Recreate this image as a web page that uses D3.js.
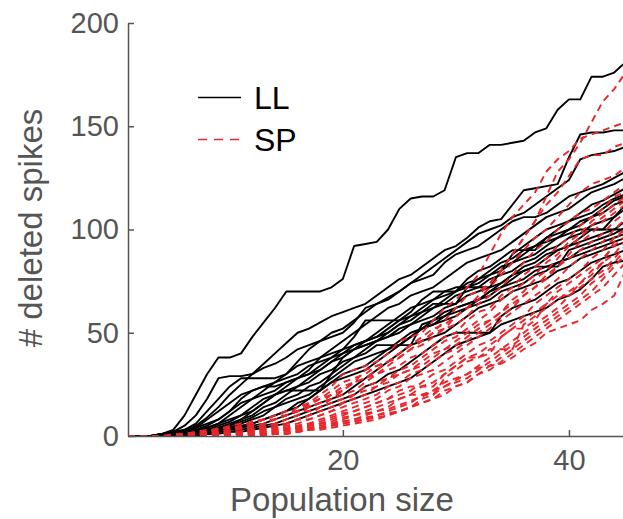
<!DOCTYPE html>
<html>
<head>
<meta charset="utf-8">
<script src="https://cdn.jsdelivr.net/npm/d3@7"></script>
<style>
  html, body { margin: 0; padding: 0; background: #fff; }
  svg { display: block; }
  text { font-family: "Liberation Sans", Arial, Helvetica, sans-serif; }
</style>
</head>
<body>
<svg id="chart" width="623" height="519"></svg>
<script>
// Population sizes (x values)
const populationSizes = d3.range(1, 46);

// Tick labels
const xTicks = [20, 40];
const yTicks = [0, 50, 100, 150, 200];

// Legend
const legendLabels = ["LL", "SP"];

// LL series (# deleted spikes vs population size)
const llSeries = [
  [0,0,0,1,3,10,20,30,38,38,40,48,55,62,70,70,70,70,72,76,92,93,94,100,110,115,116,116,119,135,137,137,141,141,142,143,147,149,158,163,163,174,174,176,181],
  [0,0,0,1,2,5,10,18,28,29,29,30,35,40,45,50,52,55,58,60,62,64,68,72,76,78,82,86,90,92,96,101,104,105,112,119,120,121,122,135,146,147,147,148,148],
  [0,0,0,0,1,3,6,12,18,24,28,28,28,28,30,36,42,46,50,52,56,60,64,67,70,74,78,82,86,90,94,98,100,102,106,108,112,116,120,124,134,136,137,138,140],
  [0,0,0,0,1,2,5,9,14,20,25,30,33,35,38,42,44,46,48,50,55,62,64,66,70,74,76,78,84,88,90,92,96,100,104,106,106,108,112,116,118,120,122,125,128],
  [0,0,0,1,2,3,4,8,12,16,20,22,24,24,26,28,32,38,42,46,50,54,58,62,64,68,70,72,76,80,84,86,88,90,94,98,102,106,108,110,114,118,120,122,125],
  [0,0,0,0,1,2,3,5,8,12,18,22,24,26,28,30,34,36,38,42,44,46,50,54,58,62,64,66,70,72,72,72,72,80,88,92,96,100,102,104,108,112,114,117,120],
  [0,0,0,0,0,1,2,4,6,10,14,18,22,26,30,34,36,38,40,42,48,56,56,56,56,60,66,70,70,70,76,80,82,86,90,90,90,96,100,104,106,108,112,115,117],
  [0,0,0,0,1,2,3,4,6,8,10,14,18,20,22,24,28,32,36,40,44,46,48,52,56,58,62,66,68,70,74,76,80,84,86,90,92,96,98,100,102,106,110,114,116],
  [0,0,0,0,0,1,2,3,5,7,10,12,16,20,22,22,22,22,30,38,42,46,48,50,54,58,60,64,64,64,72,76,78,82,84,88,92,94,96,100,104,106,108,112,114],
  [0,0,0,1,1,2,4,6,8,12,16,18,20,22,26,28,30,34,38,40,42,44,46,50,54,56,60,62,66,70,72,74,78,80,84,86,88,92,96,98,100,100,100,106,112],
  [0,0,0,0,0,1,2,3,4,6,8,12,16,20,24,28,30,32,36,38,42,44,46,48,52,54,58,62,64,68,70,72,76,78,80,84,86,90,92,96,98,102,104,106,110],
  [0,0,0,0,1,1,2,3,4,5,8,10,14,16,20,24,26,30,32,36,38,42,46,48,50,54,56,58,62,64,68,70,72,74,78,82,84,88,90,92,94,96,98,100,104],
  [0,0,0,0,0,1,1,2,3,4,6,8,10,14,18,20,24,26,30,34,38,40,44,44,44,44,54,56,60,62,64,66,70,72,76,80,82,82,82,90,92,94,96,98,101],
  [0,0,0,0,0,0,1,2,3,5,7,9,12,14,16,18,20,24,28,32,36,38,40,42,44,48,52,54,56,58,62,66,70,74,78,80,82,86,90,92,96,100,100,100,100],
  [0,0,0,0,0,1,2,2,3,4,5,6,8,10,12,14,18,22,26,30,32,34,38,42,46,50,52,56,58,62,64,66,68,72,74,76,80,82,84,86,90,92,94,96,98],
  [0,0,0,0,0,0,1,1,2,3,4,6,8,10,12,16,18,22,26,28,30,32,36,40,44,48,52,54,58,60,62,64,66,70,72,74,78,80,84,86,88,90,92,94,96],
  [0,0,0,0,0,0,0,1,2,3,4,5,6,8,10,12,14,16,18,20,24,28,32,36,40,44,46,48,50,54,58,62,64,66,70,72,74,76,80,82,86,88,90,92,94],
  [0,0,0,0,0,0,1,1,2,2,3,4,5,6,8,10,12,14,16,18,20,24,26,30,32,36,40,44,48,50,50,50,50,58,62,64,66,70,74,76,80,84,86,88,90],
  [0,0,0,0,0,0,0,1,1,2,2,3,4,5,6,8,10,12,14,16,18,20,22,24,26,28,32,36,40,44,46,48,50,54,56,58,60,62,66,68,71,76,82,84,85]
];

// SP series
const spSeries = [
  [0,0,0,0,1,1,2,3,3,5,6,6,8,10,12,12,15,18,22,26,28,30,34,36,40,44,46,50,56,62,68,70,74,80,88,96,104,116,128,134,142,152,162,168,176],
  [0,0,0,0,0,1,1,2,4,4,5,7,8,10,10,12,16,20,24,30,32,34,36,40,46,48,50,56,62,66,72,78,88,98,106,112,118,128,134,138,144,146,148,150,152],
  [0,0,0,0,0,1,2,2,3,4,4,6,8,8,10,14,16,18,20,22,26,32,34,36,40,44,48,52,54,58,62,68,74,80,88,96,104,112,118,126,134,136,136,140,142],
  [0,0,0,0,0,0,1,2,2,3,4,5,6,8,10,12,14,16,20,24,26,28,32,36,38,42,46,50,52,58,62,66,72,78,84,90,96,100,106,112,118,122,124,126,130],
  [0,0,0,0,0,0,1,1,2,3,3,4,6,8,10,12,12,14,18,22,26,28,30,34,38,42,44,48,52,54,58,64,68,72,78,84,90,94,100,104,108,110,114,118,122],
  [0,0,0,0,0,0,0,1,1,2,4,4,5,6,8,10,14,16,18,20,22,26,30,32,34,38,40,44,48,50,56,60,62,68,72,78,82,86,92,96,102,106,110,116,118],
  [0,0,0,0,0,0,0,0,1,2,2,3,4,6,6,8,10,14,16,18,20,24,26,28,32,34,38,42,46,48,52,56,60,66,70,74,78,84,88,94,98,104,108,112,116],
  [0,0,0,0,0,0,1,1,1,2,2,3,4,5,6,8,10,12,14,16,20,22,24,26,30,32,36,40,42,46,50,54,56,60,66,70,76,80,86,92,96,102,106,110,114],
  [0,0,0,0,0,0,0,1,1,1,2,3,3,4,6,8,8,10,12,16,18,20,24,28,30,32,34,38,42,44,48,52,56,60,64,68,72,78,82,88,94,98,104,108,112],
  [0,0,0,0,0,0,0,0,0,1,2,2,3,4,5,6,8,10,12,14,16,18,20,24,26,30,32,36,40,42,46,50,54,58,62,68,72,76,82,86,90,94,98,104,108],
  [0,0,0,0,0,0,0,0,1,1,1,2,3,4,4,5,6,8,10,12,14,16,18,22,24,28,30,32,36,40,44,48,52,56,60,64,68,72,76,82,86,90,94,100,105],
  [0,0,0,0,0,0,0,0,0,1,1,2,2,3,4,5,6,7,9,11,12,14,16,18,22,24,24,24,30,34,38,38,40,48,52,52,56,64,68,68,74,80,84,94,102],
  [0,0,0,0,0,0,0,0,0,0,1,1,2,3,4,4,5,6,8,10,12,14,16,18,20,22,26,30,32,36,40,44,46,50,54,58,64,68,72,76,80,86,90,96,100],
  [0,0,0,0,0,0,0,0,0,0,1,1,2,2,3,4,5,6,7,9,10,12,14,16,18,20,24,26,30,34,38,40,44,48,52,56,60,64,70,74,78,82,86,92,97],
  [0,0,0,0,0,0,0,0,0,0,0,1,1,2,3,3,4,5,6,8,10,11,12,14,18,20,20,20,28,32,36,38,42,42,42,54,58,62,66,70,74,78,84,88,95],
  [0,0,0,0,0,0,0,0,0,0,0,1,1,1,2,3,4,4,5,7,8,9,10,12,14,16,20,22,26,28,30,34,38,42,46,50,54,58,62,68,72,76,80,86,92],
  [0,0,0,0,0,0,0,0,0,0,0,0,1,1,2,2,3,4,5,6,7,8,10,11,12,14,18,20,24,26,28,32,36,40,44,48,52,56,60,64,68,74,78,84,90],
  [0,0,0,0,0,0,0,0,0,0,0,0,1,1,1,2,3,3,4,5,6,7,8,10,12,14,16,18,22,24,26,30,34,38,42,46,50,54,58,62,66,70,76,82,88],
  [0,0,0,0,0,0,0,0,0,0,0,0,0,1,1,2,3,4,5,6,7,8,9,10,12,14,16,18,20,24,26,30,32,36,40,44,48,52,56,60,64,68,72,78,84],
  [0,0,0,0,0,0,0,0,0,0,0,1,1,2,3,4,5,6,6,7,8,10,12,13,15,17,19,22,24,27,30,33,34,35,38,42,45,50,52,54,56,61,64,68,80]
];

const W = 623, H = 519;
const svg = d3.select("#chart");

const x = d3.scaleLinear().domain([1, 45]).range([128, 625.5]);
const y = d3.scaleLinear().domain([0, 200]).range([436, 23]);

const axisColor = "#555555";

const line = d3.line()
  .x((d, i) => x(populationSizes[i]))
  .y(d => y(d));

const plot = svg.append("g");

plot.selectAll("path.ll")
  .data(llSeries)
  .join("path")
  .attr("class", "ll")
  .attr("d", line)
  .attr("fill", "none")
  .attr("stroke", "#000")
  .attr("stroke-width", 1.9)
  .attr("stroke-linejoin", "round");

plot.selectAll("path.sp")
  .data(spSeries)
  .join("path")
  .attr("class", "sp")
  .attr("d", line)
  .attr("fill", "none")
  .attr("stroke", "#e8262b")
  .attr("stroke-width", 1.9)
  .attr("stroke-dasharray", "7,5");

// Axes
const yAxis = d3.axisLeft(y).tickValues(yTicks).tickSize(-6).tickSizeOuter(0).tickPadding(9);
const xAxis = d3.axisBottom(x).tickValues(xTicks).tickSize(-6).tickSizeOuter(0).tickPadding(13);

const gy = svg.append("g").attr("transform", "translate(128,0)").call(yAxis);
const gx = svg.append("g").attr("transform", "translate(0,436)").call(xAxis);

[gx, gy].forEach(g => {
  g.select(".domain").attr("stroke", axisColor).attr("stroke-width", 1.5);
  g.selectAll(".tick line").attr("stroke", axisColor).attr("stroke-width", 1.5);
  g.selectAll(".tick text")
    .attr("fill", axisColor)
    .style("font-size", "29px")
    .style("font-family", "'Liberation Sans', Arial, sans-serif");
});

// Axis labels
svg.append("text")
  .attr("x", 342)
  .attr("y", 511)
  .attr("text-anchor", "middle")
  .attr("fill", axisColor)
  .style("font-size", "33px")
  .text("Population size");

svg.append("text")
  .attr("transform", "translate(42,228) rotate(-90)")
  .attr("text-anchor", "middle")
  .attr("fill", axisColor)
  .style("font-size", "33px")
  .text("# deleted spikes");

// Legend
const legend = svg.append("g");
const legendStyles = [
  { color: "#000", dash: null, y: 97.5 },
  { color: "#e8262b", dash: "9,7", y: 139.5 }
];
legendLabels.forEach((lab, i) => {
  const s = legendStyles[i];
  legend.append("line")
    .attr("x1", 198).attr("x2", 241)
    .attr("y1", s.y).attr("y2", s.y)
    .attr("stroke", s.color)
    .attr("stroke-width", 1.6)
    .attr("stroke-dasharray", s.dash);
  legend.append("text")
    .attr("x", 254)
    .attr("y", s.y + 11)
    .attr("fill", "#000")
    .style("font-size", "32px")
    .text(lab);
});
</script>
</body>
</html>
